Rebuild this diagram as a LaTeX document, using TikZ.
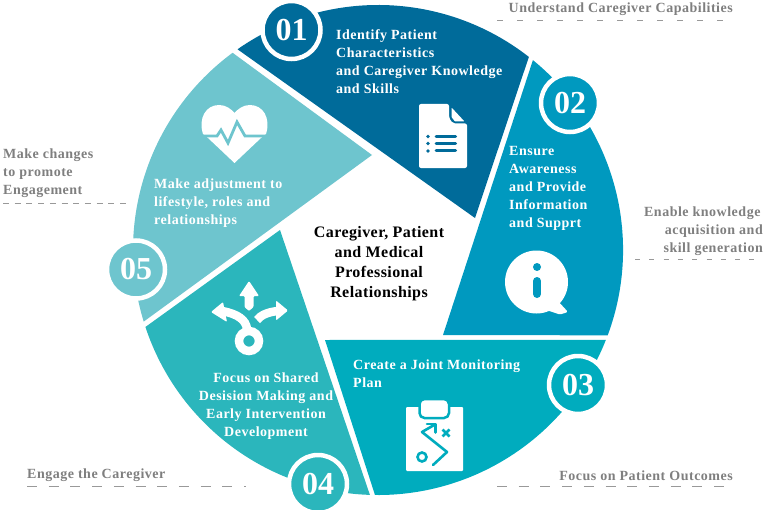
\documentclass[tikz,border=0pt]{standalone}
\usepackage{fontspec}
\setmainfont{Liberation Serif}
\newfontfamily\lblfont[LetterSpace=3.6]{Liberation Serif}
\newfontfamily\midfont[LetterSpace=2.6]{Liberation Serif}
\definecolor{cA}{HTML}{006B9A}
\definecolor{cB}{HTML}{0099BF}
\definecolor{cC}{HTML}{00ACBE}
\definecolor{cD}{HTML}{2BB6BC}
\definecolor{cE}{HTML}{6EC5CE}
\definecolor{cG}{HTML}{7F7F7F}
\begin{document}
\begin{tikzpicture}[x=1pt,y=1pt,yscale=-1,
  seglabel/.style={inner sep=0pt,text=white,font=\lblfont\bfseries\fontsize{14}{18}\selectfont},
  sidelabel/.style={inner sep=0pt,text=cG,font=\lblfont\bfseries\fontsize{14}{18}\selectfont},
  midlabel/.style={inner sep=0pt,text=black,align=center,font=\midfont\bfseries\fontsize{16}{20}\selectfont},
  numdisc/.style={circle,fill=#1,draw=white,line width=4.5pt,minimum size=58pt,inner sep=0pt,text=white,font=\bfseries\fontsize{32}{32}\selectfont},
  dashrule/.style={draw=cG!80,line width=.7pt}
]
\useasboundingbox (0,0) rectangle (767,513);
% sectors
\fill[cA] (237.5,49.3) arc[start angle=-125,end angle=-52,radius=245] -- (475,218) -- cycle;
\fill[cB] (532.9,60.1) arc[start angle=-50.8,end angle=20.4,radius=245] -- (443,335) -- cycle;
\fill[cC] (605.9,339.8) arc[start angle=21.5,end angle=90.7,radius=245] -- (325,340) -- cycle;
\fill[cD] (369.9,494.9) arc[start angle=91.9,end angle=161.7,radius=245] -- (280,230) -- cycle;
\fill[cE] (143.7,321.6) arc[start angle=163,end angle=233.6,radius=245] -- (372,155) -- cycle;
% number discs
\node[numdisc=cA] (n1) at (291.5,30) {01};
\node[numdisc=cB] (n2) at (570,103) {02};
\node[numdisc=cC] (n3) at (578,385) {03};
\begin{scope}
\clip (280,440) rectangle (360,509);
\node[numdisc=cD] (n4) at (318,484) {04};
\end{scope}
\node[numdisc=cE] (n5) at (136,269.5) {05};
% document icon
\fill[white,rounded corners=2pt] (419,104) -- (449,104) -- (449,118) -- (453,123.5) -- (467,123.5) -- (467,168) -- (419,168) -- cycle;
\fill[white,rounded corners=.7pt] (451.5,107.5) -- (464.5,121.5) -- (455,121.5) -- (451.5,117) -- cycle;
\fill[cA] (428,136.5) circle[radius=1.8] (428,143.5) circle[radius=1.8] (428,151) circle[radius=1.8];
\draw[cA,line width=3pt,line cap=round] (436,136.5) -- (455.5,136.5) (436,143.5) -- (455.5,143.5) (436,151) -- (455.5,151);
% info icon
\fill[white,rounded corners=1.5pt] (557,300) -- (568,312) -- (560,314.5) -- (540,308) -- cycle;
\fill[white] (536.5,282) circle[radius=31.5];
\fill[cB] (537,267) circle[radius=4];
\draw[cB,line width=8pt,line cap=round] (537,281) -- (537,294);
% clipboard icon
\fill[white,rounded corners=1pt] (406,407) rectangle (463,471);
\fill[white,draw=cC,line width=2.5pt,rounded corners=5pt] (419.5,399) rectangle (449,418);
\fill[white,rounded corners=4pt] (422,402) rectangle (446.5,415.5);
\draw[cC,line width=2.6pt,line cap=round,line join=round] (433,465) -- (447,452) -- (422,432) -- (435,424.5);
\draw[cC,line width=2.6pt,line cap=round,line join=round] (427,424) -- (435.5,424) -- (435.5,432.5);
\draw[cC,line width=2.6pt] (422,457) circle[radius=4.5];
\draw[cC,line width=2.8pt] (442.5,429.5) -- (449.5,436.5) (449.5,429.5) -- (442.5,436.5);
% routes icon
\draw[white,line width=8.5pt] (249,341) circle[radius=10];
\fill[white,rounded corners=1pt] (249,281) -- (259,296) -- (253.5,296) -- (253.5,307) -- (249,311) -- (244.5,307) -- (244.5,296) -- (239,296) -- cycle;
\draw[white,line width=8.5pt] (247,329) .. controls (246,320) and (238,314) .. (222,311);
\fill[white,rounded corners=1pt] (211,312) -- (223,302) -- (227,322) -- cycle;
\draw[white,line width=8.5pt] (257,320) .. controls (261,315) and (268,312) .. (278,311);
\fill[white,rounded corners=1pt] (288,310.5) -- (276,300.5) -- (276,320.5) -- cycle;
% heart icon
\fill[white] (234.5,163) -- (208,138) -- (203,134) .. controls (198,118) and (206,105) .. (219,105) .. controls (226,105) and (231,109) .. (234.5,113) .. controls (238,109) and (243,105) .. (250,105) .. controls (263,105) and (271,118) .. (266,134) -- (261,138) -- cycle;
\draw[cE,line width=2.8pt,line join=miter] (198,136) -- (217,136) -- (221,130) -- (228,143) -- (237,122) -- (245,136) -- (272,136);
% sector labels
\node[seglabel,anchor=west,align=left] (t1) at (336,62) {Identify Patient\\Characteristics\\and Caregiver Knowledge\\and Skills};
\node[seglabel,anchor=west,align=left] (t2) at (509,188) {Ensure\\Awareness\\and Provide\\Information\\and Supprt};
\node[seglabel,anchor=west,align=left] (t3) at (353,374) {Create a Joint Monitoring\\Plan};
\node[seglabel,anchor=center,align=center] (t4) at (266,406.5) {Focus on Shared\\Desision Making and\\Early Intervention\\Development};
\node[seglabel,anchor=west,align=left] (t5) at (154,203) {Make adjustment to\\lifestyle, roles and\\relationships};
\node[midlabel] (mid) at (379,264) {Caregiver, Patient\\and Medical\\Professional\\Relationships};
% side labels
\node[sidelabel,anchor=east] (s1) at (733,9) {Understand Caregiver Capabilities};
\coordinate (d1a) at (497,20); \coordinate (d1b) at (735,20);
\draw[dashrule,dash pattern=on 6pt off 14pt] (d1a) -- (d1b);
\node[sidelabel,anchor=east,align=right] (s2) at (763,231) {Enable knowledge\phantom{\,}\\acquisition and\\skill generation};
\coordinate (d2a) at (635,259.5); \coordinate (d2b) at (763,259.5);
\draw[dashrule,dash pattern=on 5pt off 9.3pt] (d2a) -- (d2b);
\node[sidelabel,anchor=east] (s3) at (733,476) {Focus on Patient Outcomes};
\coordinate (d3a) at (497,486); \coordinate (d3b) at (733,486);
\draw[dashrule,dash pattern=on 10pt off 11.7pt] (d3a) -- (d3b);
\node[sidelabel,anchor=west] (s4) at (27,475) {Engage the Caregiver};
\coordinate (d4a) at (27,486); \coordinate (d4b) at (246,486);
\draw[dashrule,dash pattern=on 10pt off 11.7pt] (d4a) -- (d4b);
\node[sidelabel,anchor=west,align=left] (s5) at (3,173) {Make changes\\to promote\\Engagement};
\coordinate (d5a) at (3,203.5); \coordinate (d5b) at (128,203.5);
\draw[dashrule,dash pattern=on 6pt off 5.7pt] (d5a) -- (d5b);
\end{tikzpicture}
\end{document}
